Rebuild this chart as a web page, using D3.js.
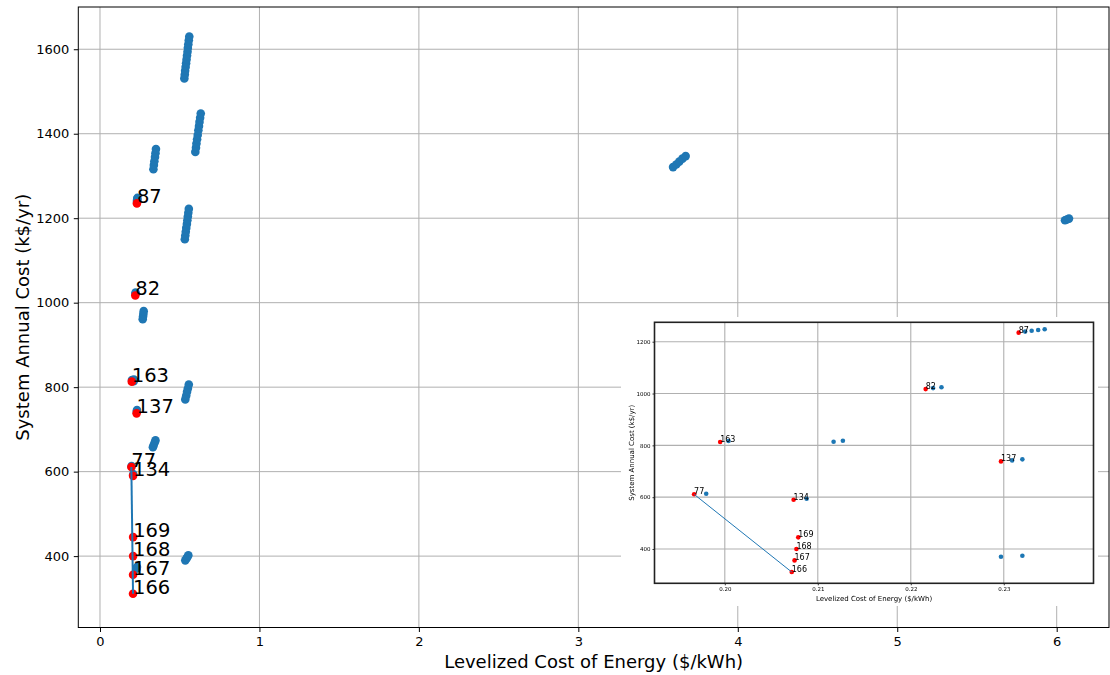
<!DOCTYPE html>
<html>
<head>
<meta charset="utf-8">
<script src="https://cdn.jsdelivr.net/npm/d3@7"></script>
<style>
  html, body { margin: 0; padding: 0; background: #fff; }
  svg { display: block; font-family: "DejaVu Sans", sans-serif; }
</style>
</head>
<body>
<svg id="chart" width="1110" height="675"></svg>
<script>
// Pareto-front designs (labelled, red)
const frontIds  = [87, 82, 163, 137, 77, 134, 169, 168, 167, 166];
const frontLcoe = [0.2316, 0.2216, 0.1995, 0.2297, 0.1967, 0.2074, 0.2079, 0.2077, 0.2075, 0.2072];
const frontCost = [1235, 1017, 813, 738, 611, 590, 445, 400, 356, 311];

// Line drawn between these two front designs
const frontLineIds = [77, 166];

// All evaluated designs (blue)
const designLcoe = [
  0.2323, 0.2330, 0.2337, 0.2344, 0.2224, 0.2233, 0.2004, 0.2117, 0.2127,
  0.2309, 0.2320, 0.1980, 0.2088, 0.2297, 0.2320,
  0.529, 0.532, 0.534, 0.537, 0.540, 0.543, 0.546, 0.549, 0.551, 0.554, 0.557, 0.560,
  0.598, 0.602, 0.605, 0.609, 0.613, 0.617, 0.621, 0.624, 0.628, 0.632,
  0.335, 0.338, 0.341, 0.345, 0.348, 0.351,
  0.532, 0.535, 0.538, 0.541, 0.545, 0.548, 0.551, 0.554, 0.557,
  0.268, 0.270, 0.272, 0.274,
  0.535, 0.541, 0.546, 0.551, 0.557,
  0.332, 0.337, 0.343, 0.348,
  0.535, 0.542, 0.548, 0.554,
  3.594, 3.614, 3.633, 3.653, 3.673,
  6.052, 6.064, 6.077
];
const designCost = [
  1239, 1242, 1245, 1248, 1021, 1024, 817, 814, 818,
  742, 746, 613, 594, 370, 374,
  1531, 1540, 1549, 1558, 1567, 1576, 1585, 1594, 1603, 1612, 1621, 1630,
  1357, 1367, 1377, 1387, 1397, 1408, 1418, 1428, 1438, 1448,
  1316, 1326, 1335, 1345, 1354, 1364,
  1150, 1159, 1168, 1177, 1186, 1195, 1204, 1213, 1222,
  961, 967, 973, 980,
  771, 780, 789, 797, 806,
  658, 663, 669, 674,
  390, 394, 398, 402,
  1321, 1327, 1334, 1341, 1347,
  1195, 1197, 1199
];

// Tick values
const mainXTicks  = [0, 1, 2, 3, 4, 5, 6];
const mainYTicks  = [400, 600, 800, 1000, 1200, 1400, 1600];
const insetXTicks = [0.20, 0.21, 0.22, 0.23];
const insetYTicks = [400, 600, 800, 1000, 1200];

const xLabel = "Levelized Cost of Energy ($/kWh)";
const yLabel = "System Annual Cost (k$/yr)";

const BLUE = "#1f77b4", RED = "#ff0000", GRID = "#b0b0b0";

const designs = designLcoe.map((v, i) => ({ x: v, y: designCost[i] }));
const front = frontIds.map((id, i) => ({ id, x: frontLcoe[i], y: frontCost[i] }));
const frontLine = frontLineIds.map(id => front.find(d => d.id === id));

const svg = d3.select("#chart");

// Draws one complete panel (grid, points, line, labels, axes, frame)
function drawPanel(g, o) {
  const { x, y, xTicks, yTicks, xFmt, yFmt } = o;
  const [x0, x1] = x.range(), [y0, y1] = y.range(); // y0 bottom, y1 top
  const w = x1 - x0, h = y0 - y1;

  const clipId = "clip-" + o.name;
  g.append("clipPath").attr("id", clipId)
    .append("rect").attr("x", x0).attr("y", y1).attr("width", w).attr("height", h);

  // grid
  const grid = g.append("g");
  grid.selectAll("line.gx").data(xTicks).join("line")
    .attr("x1", d => x(d)).attr("x2", d => x(d)).attr("y1", y0).attr("y2", y1)
    .attr("stroke", GRID).attr("stroke-width", o.gridW);
  grid.selectAll("line.gy").data(yTicks).join("line")
    .attr("class", "gy")
    .attr("y1", d => y(d)).attr("y2", d => y(d)).attr("x1", x0).attr("x2", x1)
    .attr("stroke", GRID).attr("stroke-width", o.gridW);

  const plot = g.append("g").attr("clip-path", `url(#${clipId})`);
  plot.selectAll("circle.design").data(designs).join("circle")
    .attr("class", "design")
    .attr("cx", d => x(d.x)).attr("cy", d => y(d.y)).attr("r", o.r)
    .attr("fill", BLUE);
  plot.selectAll("circle.front").data(front).join("circle")
    .attr("class", "front")
    .attr("cx", d => x(d.x)).attr("cy", d => y(d.y)).attr("r", o.r)
    .attr("fill", RED);
  plot.append("path").datum(frontLine)
    .attr("d", d3.line().x(d => x(d.x)).y(d => y(d.y)))
    .attr("fill", "none").attr("stroke", BLUE).attr("stroke-width", o.lineW);
  plot.selectAll("text.lbl").data(front).join("text")
    .attr("class", "lbl")
    .attr("x", d => x(d.x)).attr("y", d => y(d.y))
    .attr("font-size", o.labelSize).attr("fill", "#000")
    .text(d => d.id);

  // axes
  const ax = g.append("g").attr("transform", `translate(0,${y0})`)
    .call(d3.axisBottom(x).tickValues(xTicks).tickFormat(xFmt)
      .tickSize(o.tickLen).tickPadding(o.tickPad));
  const ay = g.append("g").attr("transform", `translate(${x0},0)`)
    .call(d3.axisLeft(y).tickValues(yTicks).tickFormat(yFmt)
      .tickSize(o.tickLen).tickPadding(o.tickPad));
  [ax, ay].forEach(a => {
    a.select(".domain").remove();
    a.selectAll("line").attr("stroke", "#000").attr("stroke-width", o.tickW);
    a.selectAll("text").attr("font-size", o.tickSize).attr("fill", "#000")
      .attr("font-family", "DejaVu Sans");
  });

  // frame
  g.append("rect").attr("x", x0).attr("y", y1).attr("width", w).attr("height", h)
    .attr("fill", "none").attr("stroke", o.frameColor).attr("stroke-width", o.frameW);

  // axis titles
  g.append("text").attr("x", (x0 + x1) / 2).attr("y", o.xLabelY)
    .attr("text-anchor", "middle").attr("font-size", o.axisSize).attr("fill", "#000")
    .text(xLabel);
  g.append("text")
    .attr("transform", `translate(${o.yLabelX},${(y0 + y1) / 2}) rotate(-90)`)
    .attr("text-anchor", "middle").attr("font-size", o.axisSize).attr("fill", "#000")
    .text(yLabel);
}

// Main panel
const mainX = d3.scaleLinear().domain([-0.136, 6.328]).range([78.3, 1109]);
const mainY = d3.scaleLinear().domain([231, 1700]).range([627.5, 7]);
drawPanel(svg.append("g"), {
  name: "main", x: mainX, y: mainY, xTicks: mainXTicks, yTicks: mainYTicks,
  xFmt: d3.format("d"), yFmt: d3.format("d"),
  r: 4.3, lineW: 2, labelSize: 19.5, gridW: 1, tickLen: 4.5, tickPad: 4.5, tickW: 1,
  tickSize: 13, axisSize: 18, frameColor: "#000", frameW: 1,
  xLabelY: 668, yLabelX: 29
});

// Inset: close-up of the Pareto front
const inset = svg.append("g");
const blur = svg.append("defs").append("filter").attr("id", "soft")
  .attr("x", "-5%").attr("y", "-5%").attr("width", "110%").attr("height", "110%");
blur.append("feGaussianBlur").attr("stdDeviation", 0.4);
inset.attr("filter", "url(#soft)");
inset.append("rect").attr("x", 621).attr("y", 317).attr("width", 477).attr("height", 289)
  .attr("fill", "#fff");
const insetX = d3.scaleLinear().domain([0.19244, 0.23965]).range([654.5, 1093.5]);
const insetY = d3.scaleLinear().domain([267.6, 1274.9]).range([583.3, 322.3]);
drawPanel(inset, {
  name: "inset", x: insetX, y: insetY, xTicks: insetXTicks, yTicks: insetYTicks,
  xFmt: d3.format(".2f"), yFmt: d3.format("d"),
  r: 2.3, lineW: 1, labelSize: 8, gridW: 1.1, tickLen: 2, tickPad: 2, tickW: 0.8,
  tickSize: 5.5, axisSize: 7, frameColor: "#222", frameW: 1.6,
  xLabelY: 600.5, yLabelX: 634
});
</script>
</body>
</html>
